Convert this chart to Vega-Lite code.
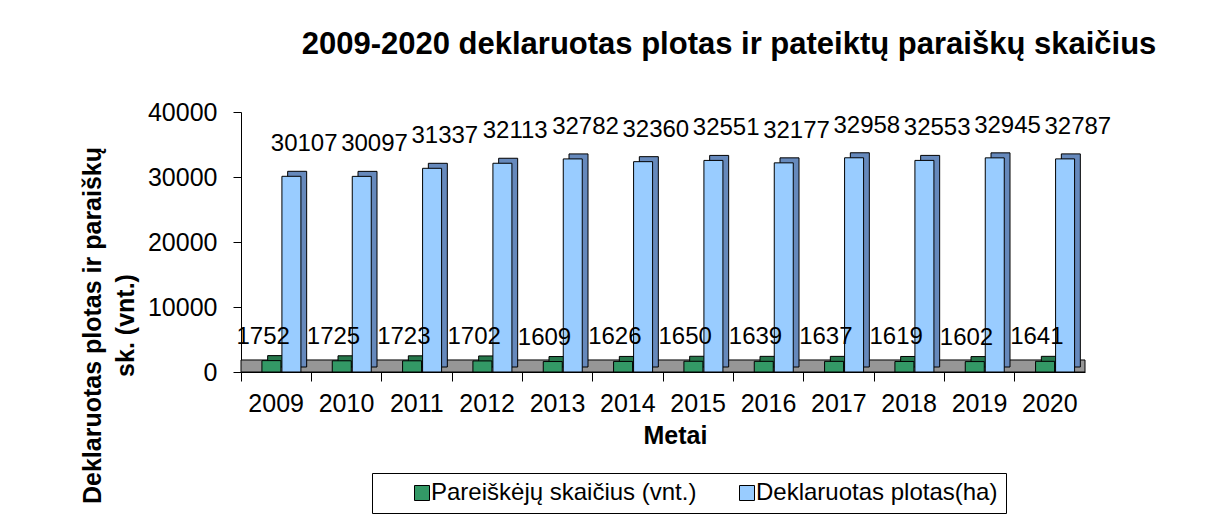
{
  "$schema": "https://vega.github.io/schema/vega-lite/v6.json",
  "width": 844,
  "height": 260,
  "autosize": {"type": "none"},
  "padding": {"left": 241, "top": 112, "right": 122, "bottom": 143},
  "background": "white",
  "config": {
    "font": "Liberation Sans",
    "view": {"stroke": null},
    "axis": {"labelColor": "black", "titleColor": "black", "domainColor": "black", "tickColor": "black", "grid": false, "labelFont": "Liberation Sans", "titleFont": "Liberation Sans"}
  },
  "title": {
    "text": "2009-2020  deklaruotas plotas ir pateiktų paraiškų skaičius",
    "font": "Liberation Sans",
    "fontSize": 31,
    "fontWeight": "bold",
    "color": "black",
    "anchor": "middle",
    "baseline": "alphabetic",
    "dx": 66,
    "dy": 25,
    "offset": 40
  },
  "data": {
    "values": [
      {"year": "2009", "series": "Pareiškėjų skaičius (vnt.)", "value": 1752},
      {"year": "2010", "series": "Pareiškėjų skaičius (vnt.)", "value": 1725},
      {"year": "2011", "series": "Pareiškėjų skaičius (vnt.)", "value": 1723},
      {"year": "2012", "series": "Pareiškėjų skaičius (vnt.)", "value": 1702},
      {"year": "2013", "series": "Pareiškėjų skaičius (vnt.)", "value": 1609},
      {"year": "2014", "series": "Pareiškėjų skaičius (vnt.)", "value": 1626},
      {"year": "2015", "series": "Pareiškėjų skaičius (vnt.)", "value": 1650},
      {"year": "2016", "series": "Pareiškėjų skaičius (vnt.)", "value": 1639},
      {"year": "2017", "series": "Pareiškėjų skaičius (vnt.)", "value": 1637},
      {"year": "2018", "series": "Pareiškėjų skaičius (vnt.)", "value": 1619},
      {"year": "2019", "series": "Pareiškėjų skaičius (vnt.)", "value": 1602},
      {"year": "2020", "series": "Pareiškėjų skaičius (vnt.)", "value": 1641},
      {"year": "2009", "series": "Deklaruotas plotas(ha)", "value": 30107},
      {"year": "2010", "series": "Deklaruotas plotas(ha)", "value": 30097},
      {"year": "2011", "series": "Deklaruotas plotas(ha)", "value": 31337},
      {"year": "2012", "series": "Deklaruotas plotas(ha)", "value": 32113},
      {"year": "2013", "series": "Deklaruotas plotas(ha)", "value": 32782},
      {"year": "2014", "series": "Deklaruotas plotas(ha)", "value": 32360},
      {"year": "2015", "series": "Deklaruotas plotas(ha)", "value": 32551},
      {"year": "2016", "series": "Deklaruotas plotas(ha)", "value": 32177},
      {"year": "2017", "series": "Deklaruotas plotas(ha)", "value": 32958},
      {"year": "2018", "series": "Deklaruotas plotas(ha)", "value": 32553},
      {"year": "2019", "series": "Deklaruotas plotas(ha)", "value": 32945},
      {"year": "2020", "series": "Deklaruotas plotas(ha)", "value": 32787}
    ]
  },
  "layer": [
    {
      "data": {"values": [{}]},
      "mark": {"type": "rect", "color": "#969696", "stroke": "black", "strokeWidth": 1},
      "encoding": {
        "y": {"datum": 0, "type": "quantitative", "scale": {"domain": [0, 40000]}},
        "y2": {"datum": 1850}
      }
    },
    {
      "transform": [{"filter": "datum.series === 'Pareiškėjų skaičius (vnt.)'"}],
      "mark": {"type": "bar", "width": 19, "xOffset": 1, "yOffset": -5, "color": "#26774b", "stroke": "black", "strokeWidth": 1},
      "encoding": {
        "x": {"field": "year", "type": "ordinal", "scale": {"paddingInner": 0, "paddingOuter": 0},
          "axis": {"bandPosition": 0, "labelAngle": 0, "labelFontSize": 25, "labelPadding": 10, "tickSize": 9, "title": "Metai", "titleFontSize": 25, "titleFontWeight": "bold", "titleBaseline": "alphabetic", "titleX": 434, "titleY": 71}},
        "y": {"field": "value", "type": "quantitative", "scale": {"domain": [0, 40000]},
          "axis": {"values": [0, 10000, 20000, 30000, 40000], "format": "d", "labelFontSize": 25, "labelPadding": 16, "tickSize": 8,
            "title": ["Deklaruotas  plotas ir paraiškų", "sk. (vnt.)"], "titleFontSize": 25, "titleFontWeight": "bold", "titleLineHeight": 33, "titleBaseline": "alphabetic", "titleAngle": -90, "titleX": -141, "titleY": 213}}
      }
    },
    {
      "transform": [{"filter": "datum.series === 'Pareiškėjų skaičius (vnt.)'"}],
      "mark": {"type": "bar", "width": 19, "xOffset": -4.75, "stroke": "black", "strokeWidth": 1},
      "encoding": {
        "x": {"field": "year", "type": "ordinal"},
        "y": {"field": "value", "type": "quantitative"},
        "color": {"field": "series", "type": "nominal",
          "scale": {"domain": ["Pareiškėjų skaičius (vnt.)", "Deklaruotas plotas(ha)"], "range": ["#339966", "#99CCFF"]},
          "legend": {"orient": "none", "legendX": 131, "legendY": 361, "direction": "horizontal", "title": null, "strokeColor": "black", "fillColor": "white", "padding": 8, "symbolType": "square", "symbolSize": 225, "symbolStrokeColor": "black", "symbolStrokeWidth": 1, "labelFontSize": 24, "labelFont": "Liberation Sans", "labelColor": "black", "labelOffset": -3, "symbolOffset": 30, "columnPadding": 8, "gridAlign": "all", "labelLimit": 0}}
      }
    },
    {
      "transform": [{"filter": "datum.series === 'Deklaruotas plotas(ha)'"}],
      "mark": {"type": "bar", "width": 19, "xOffset": 21, "yOffset": -5, "color": "#6689BC", "stroke": "black", "strokeWidth": 1},
      "encoding": {
        "x": {"field": "year", "type": "ordinal"},
        "y": {"field": "value", "type": "quantitative"}
      }
    },
    {
      "transform": [{"filter": "datum.series === 'Deklaruotas plotas(ha)'"}],
      "mark": {"type": "bar", "width": 19, "xOffset": 15.25, "stroke": "black", "strokeWidth": 1},
      "encoding": {
        "x": {"field": "year", "type": "ordinal"},
        "y": {"field": "value", "type": "quantitative"},
        "color": {"field": "series", "type": "nominal"}
      }
    },
    {
      "transform": [{"filter": "datum.series === 'Pareiškėjų skaičius (vnt.)'"}],
      "mark": {"type": "text", "fontSize": 24, "color": "black", "baseline": "middle", "dx": -13, "dy": -24},
      "encoding": {
        "x": {"field": "year", "type": "ordinal"},
        "y": {"field": "value", "type": "quantitative"},
        "text": {"field": "value", "type": "quantitative", "format": "d"}
      }
    },
    {
      "transform": [{"filter": "datum.series === 'Deklaruotas plotas(ha)'"}],
      "mark": {"type": "text", "fontSize": 24, "color": "black", "baseline": "middle", "dx": 28, "dy": -32},
      "encoding": {
        "x": {"field": "year", "type": "ordinal"},
        "y": {"field": "value", "type": "quantitative"},
        "text": {"field": "value", "type": "quantitative", "format": "d"}
      }
    }
  ]
}
